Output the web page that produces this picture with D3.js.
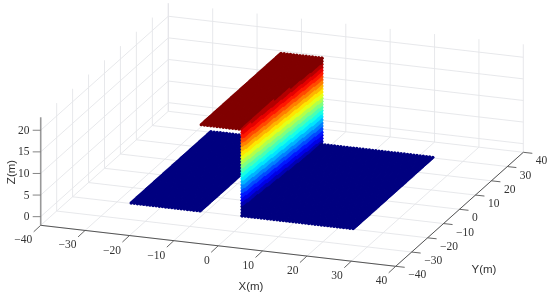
<!DOCTYPE html>
<html><head><meta charset="utf-8">
<script src="https://cdn.jsdelivr.net/npm/d3@7/dist/d3.min.js"></script>
<style>html,body{margin:0;padding:0;background:#fff}svg{display:block;filter:blur(0.35px)}</style></head>
<body><svg id="c" width="550" height="298"></svg>
<script>
const xTicks=[-40,-30,-20,-10,0,10,20,30,40];
const yTicks=[-40,-30,-20,-10,0,10,20,30,40];
const zTicks=[0,5,10,15,20];
const xDomain=[-40,40], yDomain=[-40,40], zDomain=[-2,23];
// surface regions: [x0,x1],[y0,y1],z (or z-range for the wall)
const leftPlateX=[-25,-9.5], plateY=[-25,25], rightPlateX=[0,25];
const topPlateX=[-9.2,0], wallX=0, wallZ=[0,20], topZ=20, groundZ=0;
const gridStep=0.72, wallFineStep=0.25;
// colour ramp on the wall: z at which the ramp starts / ends, at the front and back edge
const rampFront=[1.8,21.3], rampBack=[-0.2,19.3], colorLevels=20;

const svg=d3.select('#c');
const sx=d3.scaleLinear().domain(xDomain).range([0,1]);
const sy=d3.scaleLinear().domain(yDomain).range([0,1]);
const sz=d3.scaleLinear().domain(zDomain).range([0,1]);
function P(x,y,z){
  const a=sx(x),b=sy(y),c=sz(z);
  return [40.7+355*a+127.6*b, 225.3+41*a-114*b-108*c];
}
function line(g,p,q,col,w){g.append('line').attr('x1',p[0]).attr('y1',p[1]).attr('x2',q[0]).attr('y2',q[1]).attr('stroke',col).attr('stroke-width',w);}
const [x0,x1]=xDomain,[y0,y1]=yDomain,[z0,z1]=zDomain;
const grid=svg.append('g');
const gc='#e4e5e9',gw=0.9;
xTicks.forEach(x=>{line(grid,P(x,y0,z0),P(x,y1,z0),gc,gw);line(grid,P(x,y1,z0),P(x,y1,z1),gc,gw);});
yTicks.forEach(y=>{line(grid,P(x0,y,z0),P(x1,y,z0),gc,gw);line(grid,P(x0,y,z0),P(x0,y,z1),gc,gw);});
zTicks.forEach(z=>{line(grid,P(x0,y0,z),P(x0,y1,z),gc,gw);line(grid,P(x0,y1,z),P(x1,y1,z),gc,gw);});

function jet(t){
  const c=v=>Math.round(255*Math.max(0,Math.min(1,v)));
  return `rgb(${c(1.5-Math.abs(4*t-3))},${c(1.5-Math.abs(4*t-2))},${c(1.5-Math.abs(4*t-1))})`;
}
function rng(a,b,s=gridStep){const n=Math.round((b-a)/s);return d3.range(n+1).map(i=>a+(b-a)*i/n);}
const fy=d3.scaleLinear().domain(plateY).range([0,1]);
function wallT(y,z){
  const f=fy(y), lo=rampFront[0]+(rampBack[0]-rampFront[0])*f, hi=rampFront[1]+(rampBack[1]-rampFront[1])*f;
  const t=Math.max(0,Math.min(1,(z-lo)/(hi-lo)));
  return Math.round(t*colorLevels)/colorLevels;
}
const points=[];
rng(...leftPlateX).forEach(x=>rng(...plateY).forEach(y=>points.push({x,y,z:groundZ,t:0,r:1.7})));
rng(...topPlateX).forEach(x=>rng(...plateY).forEach(y=>points.push({x,y,z:topZ,t:1,r:1.7})));
rng(...wallZ).forEach(z=>rng(...plateY).forEach(y=>points.push({x:wallX,y,z,t:wallT(y,z),r:1.7})));
// fine inner pass so the colour bands on the wall are smooth, keeping the dotted outline
rng(wallZ[0]+0.4,wallZ[1]-0.4,wallFineStep).forEach(z=>rng(plateY[0]+0.1,plateY[1]-0.1,wallFineStep*2).forEach(y=>points.push({x:wallX,y,z,t:wallT(y,z),r:1.0})));
rng(...rightPlateX).forEach(x=>rng(...plateY).forEach(y=>points.push({x,y,z:groundZ,t:0,r:1.7})));
svg.append('g').selectAll('circle').data(points).join('circle')
  .attr('cx',d=>P(d.x,d.y,d.z)[0]).attr('cy',d=>P(d.x,d.y,d.z)[1])
  .attr('r',d=>d.r).attr('fill',d=>jet(d.t));

const ax=svg.append('g');
line(ax,P(x0,y0,z0),P(x1,y0,z0),'#555',1);
line(ax,P(x1,y0,z0),P(x1,y1,z0),'#555',1);
line(ax,P(x0,y0,z0),P(x0,y0,z1),'#999',1.6);
const font='"Liberation Serif",serif';
function txt(p,s,anc,size,fam){return svg.append('text').attr('x',p[0]).attr('y',p[1]).attr('text-anchor',anc).attr('dominant-baseline','central').attr('font-family',fam).attr('font-size',size).attr('fill','#333').text(s);}
const lab=v=>v<0?'\u2212'+(-v):String(v);
xTicks.forEach(x=>{
  const p=P(x,y0,z0),q=[p[0]-7,p[1]+6.5];
  line(ax,p,q,'#555',0.9);
  txt([p[0]-8.5,p[1]+14],lab(x),'end',11.5,font);
});
yTicks.forEach(y=>{
  const p=P(x1,y,z0),q=[p[0]+9,p[1]+1];
  line(ax,p,q,'#555',0.9);
  txt([p[0]+12.5,p[1]+8],lab(y),'start',11.5,font);
});
zTicks.forEach(z=>{
  const p=P(x0,y0,z),q=[p[0]-8,p[1]];
  line(ax,p,q,'#777',0.9);
  txt([29.5,p[1]-0.5],lab(z),'end',11.5,font);
});
const sans='"Liberation Sans",sans-serif';
txt([251,286],'X(m)','middle',11.5,sans);
txt([484,269],'Y(m)','middle',11.5,sans);
txt([0,0],'Z(m)','middle',11.5,sans).attr('transform','translate(11,172) rotate(-90)');
</script></body></html>
